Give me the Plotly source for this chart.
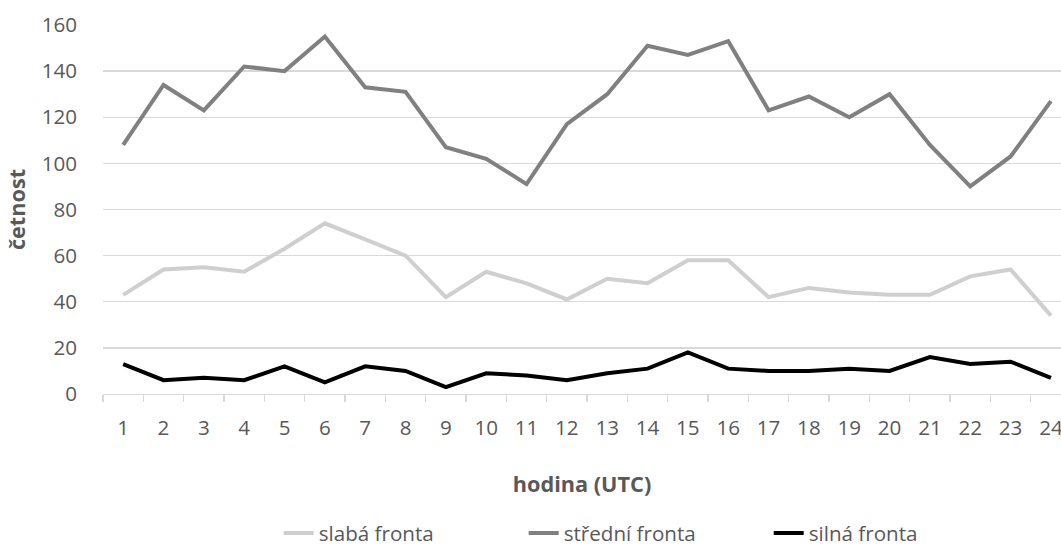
import plotly.graph_objects as go

hours = list(range(1, 25))
tick_labels = [str(h) for h in hours]

slaba = [43, 54, 55, 53, 63, 74, 67, 60, 42, 53, 48, 41, 50, 48, 58, 58, 42, 46, 44, 43, 43, 51, 54, 34]
stredni = [108, 134, 123, 142, 140, 155, 133, 131, 107, 102, 91, 117, 130, 151, 147, 153, 123, 129, 120, 130, 108, 90, 103, 127]
silna = [13, 6, 7, 6, 12, 5, 12, 10, 3, 9, 8, 6, 9, 11, 18, 11, 10, 10, 11, 10, 16, 13, 14, 7]

series_names = ["slabá fronta", "střední fronta", "silná fronta"]
series_colors = ["#D0CECE", "#808080", "#000000"]
series_values = [slaba, stredni, silna]

FONT = "Open Sans"
TXT = "#595959"
TICK_SIZE = 20.6
TITLE_SIZE = 21.7

fig = go.Figure()
for name, color, vals in zip(series_names, series_colors, series_values):
    fig.add_trace(go.Scatter(
        x=hours, y=vals, name=name, mode="lines",
        line=dict(color=color, width=4, shape="linear"),
    ))

fig.update_layout(
    width=1061, height=553,
    margin=dict(l=103, r=0, t=25, b=148),
    paper_bgcolor="white", plot_bgcolor="white",
    font=dict(family=FONT, size=TICK_SIZE, color=TXT),
    showlegend=True,
    legend=dict(
        orientation="h", x=0.567, xanchor="center", y=-0.378, yanchor="middle",
        font=dict(family=FONT, size=TICK_SIZE, color=TXT),
        traceorder="normal", itemwidth=30,
        entrywidth=200, entrywidthmode="pixels",
    ),
)

fig.update_xaxes(
    range=[0.5, 24.25],
    tickmode="array", tickvals=hours, ticktext=tick_labels,
    ticks="", showgrid=False,
    showline=True, linecolor="#D9D9D9", linewidth=1.3,
    zeroline=False,
    minor=dict(tickmode="linear", tick0=0.5, dtick=1, ticks="outside", ticklen=7,
               tickcolor="#D9D9D9", tickwidth=1.3, showgrid=False),
    ticklabelstandoff=15,
    ticklabeloverflow="allow",
    tickfont=dict(family=FONT, size=TICK_SIZE, color=TXT),
    title=dict(text="<b>hodina (UTC)</b>", font=dict(family=FONT, size=TITLE_SIZE, color=TXT), standoff=36),
    automargin=False,
)

fig.update_yaxes(
    range=[0, 160],
    tickmode="linear", tick0=0, dtick=20,
    showgrid=True, gridcolor="#D9D9D9", gridwidth=1.3,
    zeroline=False, showline=False, ticks="",
    ticklabelstandoff=25,
    tickfont=dict(family=FONT, size=TICK_SIZE, color=TXT),
    title=dict(text="<b>četnost</b>", font=dict(family=FONT, size=TITLE_SIZE, color=TXT), standoff=10),
    automargin=False,
)

fig.write_html(
    "out.html",
    config={"displayModeBar": False, "staticPlot": True},
    post_script=(
        "var h=document.documentElement, b=document.body;"
        "[h,b].forEach(function(e){e.style.margin='0';e.style.padding='0';"
        "e.style.overflow='hidden';e.style.height='553px';e.style.width='1061px';});"
        "var d=document.querySelector('.plotly-graph-div');"
        "if(d&&d.parentElement){d.parentElement.style.height='553px';d.parentElement.style.overflow='hidden';}"
    ),
)
